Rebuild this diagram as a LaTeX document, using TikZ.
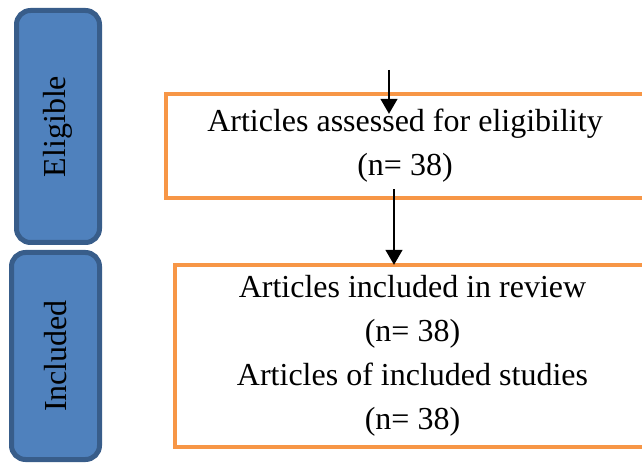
\documentclass[tikz,border=0pt]{standalone}
\usepackage{fontspec}
\setmainfont{Liberation Serif}
\usepackage{xcolor}
\usetikzlibrary{calc,arrows.meta}
\definecolor{stageblue}{HTML}{4F81BD}
\definecolor{stageedge}{HTML}{385D8A}
\definecolor{boxorange}{HTML}{F79646}

\begin{document}
\begin{tikzpicture}[x=0.5pt, y=-0.5pt,
  stage/.style={draw=stageedge, fill=stageblue, line width=2.5pt, rounded corners=7pt, rotate=90, inner sep=0pt, font=\fontsize{16}{18}\selectfont},
  record/.style={draw=boxorange, line width=2.2pt, align=center, inner sep=0pt, font=\fontsize{16}{22}\selectfont},
  flow/.style={-{Triangle[length=7.5pt,width=8.5pt]}, line width=0.75pt}]
\useasboundingbox (0,0) rectangle (642,464);
% stage labels on the left
\node[stage, minimum width=116pt, minimum height=41.5pt] (elig) at (58,126.5) {Eligible};
\node[stage, minimum width=103.5pt, minimum height=44pt] (incl) at (55.5,356) {Included};
% record boxes
\node[record, minimum width=239pt, minimum height=52pt] (assess) at (405,146) {Articles assessed for eligibility\\(n= 38)};
\node[record, minimum width=237.5pt, minimum height=91pt] (review) at (412.5,356) {Articles included in review\\(n= 38)\\Articles of included studies\\(n= 38)};
% connectors
\coordinate (source) at (389,70);
\draw[flow] (source) -- ([shift={(-8pt,-11pt)}]assess.north);
\draw[flow] ([shift={(-5.5pt,5.5pt)}]assess.south) -- ([shift={(-9.25pt,-1pt)}]review.north);
\end{tikzpicture}
\end{document}
